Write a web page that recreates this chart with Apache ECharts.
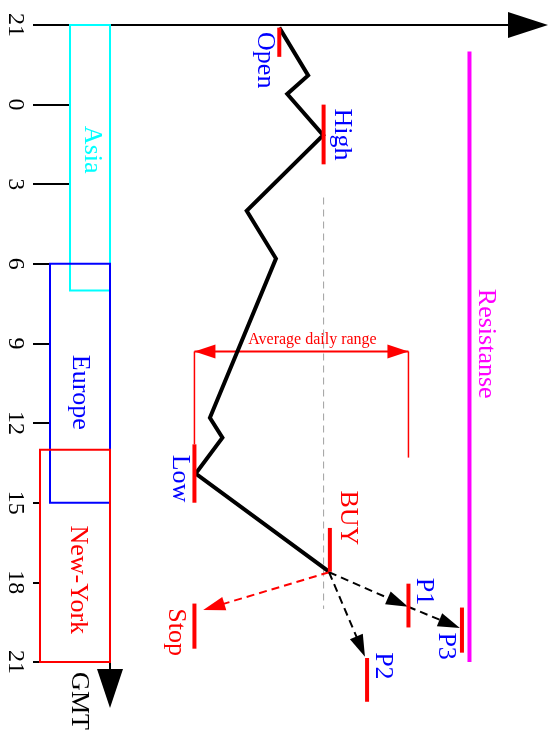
<!DOCTYPE html>
<html><head><meta charset="utf-8">
<script src="https://cdn.jsdelivr.net/npm/echarts@6/dist/echarts.min.js"></script>
<style>html,body{margin:0;padding:0;background:#fff}#c{width:560px;height:731px}</style>
</head><body><div id="c"></div>
<script>
// ---- DATA (time = hours elapsed since 21:00 GMT, price = arbitrary price level) ----
const tickHours = [0, 3, 6, 9, 12, 15, 18, 21, 24];
const tickLabels = ['21', '0', '3', '6', '9', '12', '15', '18', '21'];

const sessionNames = ['Asia', 'Europe', 'New-York'];
const sessionStart = [0, 9, 16];
const sessionEnd = [10, 18, 24];

const pathHours = [0.1, 1.9, 2.6, 4.15, 7.0, 8.8, 14.8, 15.55, 16.9, 20.6];
const pathPrice = [40.5, 47.4, 42.4, 51.0, 32.7, 39.7, 23.9, 26.9, 20.5, 52.4];

const levelNames = ['Open', 'High', 'Low', 'BUY', 'Stop', 'P1', 'P3', 'P2'];
const levelPrice = [40.5, 51.1, 20.2, 52.6, 20.2, 71.4, 84.2, 61.5];
const levelFrom = [0.1, 3.0, 15.8, 18.95, 21.8, 21.05, 21.95, 23.85];
const levelTo = [1.2, 5.25, 18.0, 20.6, 23.5, 22.7, 23.65, 25.5];

const resistancePrice = 86;
const resistanceFrom = 1;
const resistanceTo = 24;

const adrValue = 51.2;      // average daily range, measured from Low
const adrHour = 12.3;
const adrRightTo = 16.3;

const highGuideFrom = 6.5;
const highGuideTo = 22;

const entryPrice = 52.4;
const entryHour = 20.62;
const targetNames = ['Stop', 'P1', 'P3', 'P2'];
const targetFromPrice = [entryPrice, entryPrice, 71.3, entryPrice];
const targetFromHour = [entryHour, entryHour, 21.92, entryHour];
const targetPrice = [22.3, 71.3, 83.7, 61.0];
const targetHour = [22.04, 21.92, 22.72, 23.8];

// ---- STYLE / LAYOUT ----
const FONT = '"Liberation Serif", "Times New Roman", serif';
const BLUE = '#0000ff', RED = '#ff0000', CYAN = '#00ffff', MAGENTA = '#ff00ff';
const levelColor = {Open: BLUE, High: BLUE, Low: BLUE, BUY: RED, Stop: RED, P1: BLUE, P2: BLUE, P3: BLUE};
const levelLabelOffset = {Open: [-14, 18], High: [18, 0], Low: [-15, 5], BUY: [18, -32], Stop: [-19, 6],
  P1: [15, -14], P3: [-16, 16], P2: [16, -14]};
const sessionColor = [CYAN, BLUE, RED];
const sessionBoxWidth = [40, 60, 70];
const sessionLabelOffset = [[2, -8], [0, 9], [3, 24]];

function tri(tip, from, len, wid) {
  const dx = tip[0] - from[0], dy = tip[1] - from[1];
  const d = Math.sqrt(dx * dx + dy * dy) || 1;
  const ux = dx / d, uy = dy / d;
  const bx = tip[0] - ux * len, by = tip[1] - uy * len;
  const nx = -uy * wid / 2, ny = ux * wid / 2;
  return [[tip[0], tip[1]], [bx + nx, by + ny], [bx - nx, by - ny]];
}

const chart = echarts.init(document.getElementById('c'), null, {renderer: 'canvas'});
chart.setOption({
  animation: false,
  backgroundColor: '#fff',
  grid: {left: 110, top: 25, width: 418, height: 663.5, containLabel: false, outerBoundsMode: 'none'},
  xAxis: {
    type: 'value', position: 'top', min: 0, max: 100,
    axisLine: {show: true, onZero: false, symbol: ['none', 'triangle'], symbolSize: [26, 40], lineStyle: {color: '#000', width: 2}},
    axisTick: {show: false}, axisLabel: {show: false}, splitLine: {show: false}
  },
  yAxis: {
    type: 'value', inverse: true, min: 0, max: 25,
    axisLine: {show: true, onZero: false, symbol: ['triangle', 'none'], symbolSize: [26, 39], lineStyle: {color: '#000', width: 2}},
    axisTick: {show: true, inside: false, length: 77, customValues: tickHours, lineStyle: {color: '#000', width: 2}},
    axisLabel: {show: true, customValues: tickHours, rotate: -90, margin: 83, color: '#000',
      fontFamily: FONT, fontSize: 24,
      formatter: function (v) { const i = tickHours.indexOf(v); return i >= 0 ? tickLabels[i] : ''; }},
    splitLine: {show: false}
  },
  graphic: [{
    type: 'text', x: 79, y: 701, rotation: -Math.PI / 2,
    style: {text: 'GMT', font: '26px ' + FONT, fill: '#000', align: 'center', verticalAlign: 'middle'}
  }],
  series: [
    { // trading sessions
      type: 'custom', clip: false, z: 3,
      encode: {x: 0, y: [1, 2]},
      data: sessionNames.map((n, i) => [0, sessionStart[i], sessionEnd[i]]),
      renderItem: function (params, api) {
        const i = params.dataIndex;
        const a = api.coord([0, api.value(1)]);
        const b = api.coord([0, api.value(2)]);
        const xr = a[0], xl = xr - sessionBoxWidth[i];
        const off = sessionLabelOffset[i];
        return {type: 'group', children: [
          {type: 'rect', z2: 0, shape: {x: xl, y: a[1], width: xr - xl, height: b[1] - a[1]}, style: {fill: '#fff', stroke: null}},
          {type: 'rect', z2: 10, shape: {x: xl, y: a[1], width: xr - xl, height: b[1] - a[1]}, style: {fill: null, stroke: sessionColor[i], lineWidth: 2}},
          {type: 'text', z2: 11, x: (xl + xr) / 2 + off[0], y: (a[1] + b[1]) / 2 + off[1], rotation: -Math.PI / 2,
            style: {text: sessionNames[i], fill: sessionColor[i], font: '26px ' + FONT, align: 'center', verticalAlign: 'middle'}}
        ]};
      }
    },
    { // high guide
      type: 'line', clip: false, showSymbol: false, symbol: 'none', z: 2,
      data: [[levelPrice[1], highGuideFrom], [levelPrice[1], highGuideTo]],
      lineStyle: {color: '#a0a0a0', width: 1, type: [7, 5]}
    },
    { // average daily range
      type: 'custom', clip: false, z: 3,
      encode: {x: 0, y: 1},
      data: [[levelPrice[2], adrHour, adrValue, levelFrom[2], adrRightTo]],
      renderItem: function (params, api) {
        const low = api.value(0), h = api.value(1), r = api.value(2);
        const L = api.coord([low, h]), R = api.coord([low + r, h]);
        const Lb = api.coord([low, api.value(3)]), Rb = api.coord([low + r, api.value(4)]);
        return {type: 'group', children: [
          {type: 'line', shape: {x1: L[0], y1: L[1], x2: R[0], y2: R[1]}, style: {stroke: RED, lineWidth: 2}},
          {type: 'line', shape: {x1: L[0], y1: L[1], x2: Lb[0], y2: Lb[1]}, style: {stroke: RED, lineWidth: 1.5}},
          {type: 'line', shape: {x1: R[0], y1: R[1], x2: Rb[0], y2: Rb[1]}, style: {stroke: RED, lineWidth: 1.5}},
          {type: 'polygon', shape: {points: tri(L, R, 21, 14)}, style: {fill: RED}},
          {type: 'polygon', shape: {points: tri(R, L, 21, 14)}, style: {fill: RED}},
          {type: 'text', x: (L[0] + R[0]) / 2 + 11, y: L[1] - 4,
            style: {text: 'Average daily range', fill: RED, font: '16px ' + FONT, align: 'center', verticalAlign: 'bottom'}}
        ]};
      }
    },
    { // resistance
      type: 'custom', clip: false, z: 3,
      encode: {x: 0, y: [1, 2]},
      data: [[resistancePrice, resistanceFrom, resistanceTo]],
      renderItem: function (params, api) {
        const a = api.coord([api.value(0), api.value(1)]);
        const b = api.coord([api.value(0), api.value(2)]);
        return {type: 'group', children: [
          {type: 'line', shape: {x1: a[0], y1: a[1], x2: b[0], y2: b[1]}, style: {stroke: MAGENTA, lineWidth: 4}},
          {type: 'text', x: a[0] + 16, y: (a[1] + b[1]) / 2 - 13, rotation: -Math.PI / 2,
            style: {text: 'Resistanse', fill: MAGENTA, font: '26px ' + FONT, align: 'center', verticalAlign: 'middle'}}
        ]};
      }
    },
    { // price path
      type: 'line', clip: false, showSymbol: false, symbol: 'none', z: 4,
      data: pathPrice.map((p, i) => [p, pathHours[i]]),
      lineStyle: {color: '#000', width: 4, join: 'miter'}
    },
    { // trade arrows
      type: 'custom', clip: false, z: 5,
      encode: {x: [0, 2], y: [1, 3]},
      data: targetNames.map((n, i) => [targetFromPrice[i], targetFromHour[i], targetPrice[i], targetHour[i]]),
      renderItem: function (params, api) {
        const i = params.dataIndex;
        const s = api.coord([api.value(0), api.value(1)]);
        const t = api.coord([api.value(2), api.value(3)]);
        const col = targetNames[i] === 'Stop' ? RED : '#000';
        const head = tri(t, s, 22, 14);
        const dx = t[0] - s[0], dy = t[1] - s[1], d = Math.sqrt(dx * dx + dy * dy);
        const ex = t[0] - dx / d * 18, ey = t[1] - dy / d * 18;
        return {type: 'group', children: [
          {type: 'line', shape: {x1: s[0], y1: s[1], x2: ex, y2: ey}, style: {stroke: col, lineWidth: 2, lineDash: [8, 5]}},
          {type: 'polygon', shape: {points: head}, style: {fill: col}}
        ]};
      }
    },
    { // level markers with labels
      type: 'custom', clip: false, z: 6,
      encode: {x: 0, y: [1, 2]},
      data: levelNames.map((n, i) => [levelPrice[i], levelFrom[i], levelTo[i]]),
      renderItem: function (params, api) {
        const name = levelNames[params.dataIndex];
        const a = api.coord([api.value(0), api.value(1)]);
        const b = api.coord([api.value(0), api.value(2)]);
        const off = levelLabelOffset[name];
        return {type: 'group', children: [
          {type: 'line', shape: {x1: a[0], y1: a[1], x2: b[0], y2: b[1]}, style: {stroke: RED, lineWidth: 4}},
          {type: 'text', x: a[0] + off[0], y: (a[1] + b[1]) / 2 + off[1], rotation: -Math.PI / 2,
            style: {text: name, fill: levelColor[name], font: '26px ' + FONT, align: 'center', verticalAlign: 'middle'}}
        ]};
      }
    }
  ]
});
</script></body></html>
